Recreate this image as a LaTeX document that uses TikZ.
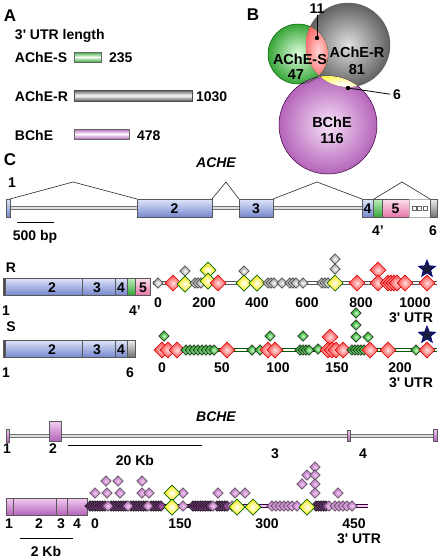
\documentclass[tikz,border=0pt]{standalone}
\usepackage{fontspec}
\setmainfont{Liberation Sans}
\usetikzlibrary{shapes.geometric}
\definecolor{bluT}{RGB}{224,230,250}
\definecolor{bluB}{RGB}{118,136,206}
\definecolor{pnkT}{RGB}{253,224,238}
\definecolor{pnkB}{RGB}{232,118,170}
\definecolor{grnT}{RGB}{190,240,190}
\definecolor{grnB}{RGB}{55,165,55}
\definecolor{gryT}{RGB}{238,238,238}
\definecolor{gryB}{RGB}{115,115,115}
\definecolor{purT}{RGB}{242,205,242}
\definecolor{purB}{RGB}{180,100,186}
\definecolor{purD}{RGB}{80,30,85}
\definecolor{navy}{RGB}{25,30,62}
\tikzset{
  lab/.style={font=\bfseries\fontsize{14}{16}\selectfont, anchor=base},
  big/.style={font=\bfseries\fontsize{17}{18}\selectfont, anchor=base},
  ebox/.style={draw=black!65, line width=0.6pt},
  blu/.style={ebox, top color=bluT, bottom color=bluB},
  grn/.style={ebox, top color=grnT, bottom color=grnB},
  pnk/.style={ebox, top color=pnkT, bottom color=pnkB},
  gry/.style={ebox, top color=gryT, bottom color=gryB},
  pur/.style={ebox, top color=purT, bottom color=purB},
  barG/.style={draw=black!60, line width=0.6pt, top color=grnB, bottom color=grnB, middle color=white},
  barK/.style={draw=black!70, line width=0.6pt, top color=black!65, bottom color=black!65, middle color=white},
  barP/.style={draw=black!60, line width=0.6pt, top color=purB, bottom color=purB, middle color=white},
  intron/.style={draw=black!55, double=black!12, double distance=1.6pt, line width=1pt},
  utrK/.style={draw=black!65, double=white, double distance=1.6pt, line width=1pt},
  utrG/.style={draw=green!35!black, double=white, double distance=1.6pt, line width=1pt},
  utrP/.style={draw=black!55!violet, double=purT, double distance=1.6pt, line width=1pt},
  dm/.style={diamond, inner sep=0pt, minimum size=#1, line width=0.5pt},
  gd/.style={dm=10.5pt, draw=black!75, inner color=white, outer color=black!45},
  yd/.style={dm=16pt, draw=green!40!black, line width=0.7pt, inner color=white, outer color=yellow!85!orange},
  rd/.style={dm=16pt, draw=red!85!black, inner color=red!12!white, outer color=red!75!white},
  sd/.style={dm=10.5pt, draw=black!85, inner color=green!20!white, outer color=green!55!black},
  pd/.style={dm=10.5pt, draw=black!70, inner color=purT, outer color=purB},
  pk/.style={dm=10.5pt, draw=black!90, inner color=purB, outer color=purD},
  starm/.style={star, star points=5, star point ratio=2.3, minimum size=18pt, inner sep=0pt, fill=navy, draw=blue!55!black, line width=0.7pt},
  ptr/.style={draw=black, line width=0.8pt},
  sbar/.style={draw=black, line width=1pt},
  caret/.style={draw=black!85, line width=0.6pt},
}
\begin{document}
\begin{tikzpicture}[x=1pt,y=-1pt,every node/.style={inner sep=0pt,outer sep=0pt}]
\useasboundingbox (0,0) rectangle (443,558);

% ---------------- Panel A
\node[big] (pA) at (10,21) {A};
\node[lab,anchor=base west] (utrlen) at (15,39) {3\textquotesingle{} UTR length};
\node[lab,anchor=base west] (aS) at (15,62) {AChE-S};
\draw[barG] (74,52) rectangle (101,62);
\node[lab,anchor=base west] (nS) at (109,62) {235};
\node[lab,anchor=base west] (aR) at (15,101) {AChE-R};
\draw[barK] (74,90) rectangle (192,101);
\node[lab,anchor=base west] (nR) at (196,101) {1030};
\node[lab,anchor=base west] (aB) at (15,140) {BChE};
\draw[barP] (74,129) rectangle (129,139);
\node[lab,anchor=base west] (nB) at (137,140) {478};

% ---------------- Panel B
\node[big] (pB) at (253,20) {B};
\coordinate (cK) at (348,45);
\coordinate (cG) at (298,54);
\coordinate (cP) at (328,125);
\shade[inner color=black!12, outer color=black!62] (cK) circle (42);
\shade[inner color=green!12, outer color=grnB] (cG) circle (30);
\shade[inner color=purT!60!white, outer color=purB] (cP) circle (49);
\draw[black!60, line width=0.5pt] (cK) circle (42);
\draw[green!35!black, line width=0.5pt] (cG) circle (30);
\draw[black!50!violet, line width=0.5pt] (cP) circle (49);
\begin{scope}
  \clip (cG) circle (30);
  \clip (cK) circle (42);
  \shade[inner color=red!15!white, outer color=red!80!white] (318,52) ellipse (20 and 42);
\end{scope}
\begin{scope}
  \clip (cK) circle (42);
  \clip (cP) circle (49);
  \shade[inner color=white, outer color=yellow!90!orange] (343,84) ellipse (42 and 14);
\end{scope}
\node[lab, font=\bfseries\fontsize{14.5}{16}\selectfont] (bS) at (300,64) {AChE-S};
\node[lab, font=\bfseries\fontsize{14.5}{16}\selectfont] (b47) at (296,79) {47};
\node[lab, font=\bfseries\fontsize{14.5}{16}\selectfont] (bR) at (357,57) {AChE-R};
\node[lab, font=\bfseries\fontsize{14.5}{16}\selectfont] (b81) at (357,74) {81};
\node[lab, font=\bfseries\fontsize{14.5}{16}\selectfont] (bB) at (332,127) {BChE};
\node[lab, font=\bfseries\fontsize{14.5}{16}\selectfont] (b116) at (332,143) {116};
\node[lab, outer sep=1.5pt] (n11) at (317,13) {11};
\coordinate (d11) at (317,38);
\draw[ptr] (n11.south) -- (d11);
\fill (d11) circle (2.2);
\node[lab, outer sep=3pt] (n6) at (397,99) {6};
\coordinate (d6) at (348,88);
\draw[ptr] (d6) -- (n6.west);
\fill (d6) circle (2.2);

% ---------------- Panel C : ACHE gene
\node[big] (pC) at (10,165) {C};
\node[lab, font=\bfseries\itshape\fontsize{14}{16}\selectfont] (ache) at (216,167) {ACHE};
\node[lab] (g1) at (12,187) {1};
\draw[intron] (7,208) -- (433,208);
\draw[blu] (6,199) rectangle (10,217);
\draw[blu] (137,199) rectangle (212,217);
\draw[blu] (239,199) rectangle (273,217);
\draw[blu] (362,199) rectangle (373,217);
\draw[grn] (373,199) rectangle (382,217);
\draw[pnk] (382,199) rectangle (409,217);
\draw[draw=black!30, fill=white, line width=0.5pt] (409,199) rectangle (430,217);
\foreach \x in {414,419.5,425} \draw[black!60, fill=white, line width=0.5pt] (\x-1.8,206.2) rectangle (\x+1.8,209.8);
\draw[gry] (430,199) rectangle (437,217);
\draw[caret] (10,199) -- (73,182) -- (137,199);
\draw[caret] (212,199) -- (226,182) -- (239,199);
\draw[caret] (273,199) -- (317,182) -- (362,199);
\draw[caret] (374,199) -- (402,182) -- (430,199);
\node[lab] (e2) at (174.5,213) {2};
\node[lab] (e3) at (256,213) {3};
\node[lab] (e4) at (367.5,213) {4};
\node[lab] (e5) at (395.5,213) {5};
\coordinate (sb1) at (17,222);
\coordinate (sb2) at (54,222);
\draw[sbar] (sb1) -- (sb2);
\node[lab] (bp) at (35,240) {500 bp};
\node[lab] (g4p) at (378,235) {4’};
\node[lab] (g6) at (433,235) {6};

% ---------------- R transcript
\node[lab] (tR) at (11,272) {R};
\draw[ebox, fill=black!70] (3,278) rectangle (5,295);
\draw[blu] (5,278) rectangle (82,295);
\draw[blu] (82,278) rectangle (115,295);
\draw[blu] (115,278) rectangle (127,295);
\draw[grn] (127,278) rectangle (135,295);
\draw[pnk] (135,278) rectangle (150,295);
\node[lab] (r2) at (52,292) {2};
\node[lab] (r3) at (97,292) {3};
\node[lab] (r4) at (121,292) {4};
\node[lab] (r5) at (143,292) {5};
\node[lab] (r1) at (6,315) {1};
\node[lab] (r4p) at (135,315) {4’};
\coordinate (rs) at (153,283);
\coordinate (re) at (437,283);
\draw[utrK] (rs) -- (re);
\foreach \x/\y/\s [count=\k] in {158/283/gd,173/283/rd,185/271/gd,185/284/yd,195/283/gd,198/283/gd,201/283/gd,
  208/270/yd,208/281/yd,218/283/rd,244/271/gd,244/283/yd,257/283/yd,268/283/gd,271/283/gd,274/283/gd,282/283/gd,
  290/283/gd,293/283/gd,296/283/gd,303/283/gd,322/283/gd,325/283/gd,328/283/gd,335/259/gd,335/269/gd,335/283/yd,
  357/283/rd,378/270/rd,378/283/rd,388/283/rd,391/283/rd,394/283/rd,397/283/rd,405/283/rd,427/283/rd}
  \node[\s] (rm\k) at (\x,\y) {};
\node[starm] (rstar) at (427,269) {};
\foreach \v/\x in {0/158,200/204,400/257,600/307,800/361,1000/415}
  \node[lab] (rx\v) at (\x,307) {\v};
\node[lab] (rutr) at (411,322) {3\textquotesingle{} UTR};

% ---------------- S transcript
\node[lab] (tS) at (11,331) {S};
\draw[ebox, fill=black!70] (3,340) rectangle (5,357);
\draw[blu] (5,340) rectangle (82,357);
\draw[blu] (82,340) rectangle (115,357);
\draw[blu] (115,340) rectangle (127,357);
\draw[gry] (127,340) rectangle (135,357);
\node[lab] (s2) at (52,354) {2};
\node[lab] (s3) at (97,354) {3};
\node[lab] (s4) at (121,354) {4};
\node[lab] (s1) at (6,377) {1};
\node[lab] (s6) at (130,377) {6};
\coordinate (ss) at (157,350);
\coordinate (se) at (437,350);
\draw[utrG] (ss) -- (se);
\foreach \x/\y/\s [count=\k] in {164/336/sd,162/350/rd,168/350/rd,177/350/rd,
  186/350/sd,190/350/sd,194/350/sd,198/350/sd,202/350/sd,206/350/sd,210/350/sd,214/350/sd,
  227/350/rd,252/350/sd,260/350/sd,270/336/sd,268/350/rd,275/350/rd,
  303/336/sd,300/350/sd,303/350/sd,306/350/sd,309/350/sd,318/349/sd,
  330/337/rd,328/350/rd,332/350/rd,336/350/rd,343/350/rd,
  356/313/sd,356/325/sd,356/337/sd,368/337/sd,
  352/350/sd,355/350/sd,358/350/sd,361/350/sd,364/350/sd,
  370/350/rd,388/350/rd,416/350/sd,427/350/rd}
  \node[\s] (sm\k) at (\x,\y) {};
\node[starm] (sstar) at (427,335) {};
\foreach \v/\x in {0/162,50/222,100/278,150/337,200/400}
  \node[lab] (sx\v) at (\x,372) {\v};
\node[lab] (sutr) at (411,387) {3\textquotesingle{} UTR};

% ---------------- BCHE gene
\node[lab, font=\bfseries\itshape\fontsize{14}{16}\selectfont] (bche) at (216,421) {BCHE};
\draw[intron] (7,436) -- (435,436);
\draw[pur] (6,429) rectangle (9,442);
\draw[pur] (49,421) rectangle (61,441);
\draw[pur] (347,430) rectangle (350,441);
\draw[pur] (433,429) rectangle (437,441);
\node[lab] (h1) at (7,453) {1};
\node[lab] (h2) at (53,453) {2};
\node[lab] (h3) at (275,458) {3};
\node[lab] (h4) at (363,458) {4};
\coordinate (kb1) at (68,445);
\coordinate (kb2) at (202,445);
\draw[sbar] (kb1) -- (kb2);
\node[lab] (kb) at (135,465) {20 Kb};

% ---------------- BCHE transcript
\draw[pur] (6,498) rectangle (87,515);
\draw[black!65, line width=0.6pt] (13,498) -- (13,515) (56,498) -- (56,515) (67,498) -- (67,515);
\foreach \n/\x in {1/9,2/39,3/61,4/77}
  \node[lab] (bt\n) at (\x,528) {\n};
\coordinate (tk1) at (20,538);
\coordinate (tk2) at (73,538);
\draw[sbar] (tk1) -- (tk2);
\node[lab] (tkb) at (46,556) {2 Kb};
\coordinate (bs) at (90,506);
\coordinate (be) at (368,506);
\draw[utrP] (bs) -- (be);
\foreach \x/\y [count=\k] in {106/481,118/481,142/481,95/493,107/493,120/493,142/493,149/493,183/493,218/493,235/493,245/493,
  315/467,307/475,315/475,302/484,315/484,315/493,338/493}
  \node[pd] (bu\k) at (\x,\y) {};
\foreach \x [count=\k] in {90,92.5,...,105.5,111,113.5,...,126,131,133.5,...,146,151,153.5,...,161,193,195.5,...,211,217,219.5,...,229,316,318.5,...,327}
  \node[pk] (bk\k) at (\x,506) {};
\foreach \x/\y/\s [count=\k] in {108/506/pd,128/506/pd,148/506/pd,172/493/yd,172/507/yd,183/506/pd,213/506/pd,232/506/pd,
  237/507/yd,253/507/yd,272/506/pd,276/506/pd,280/506/pd,284/506/pd,288/506/pd,292/506/pd,297/506/pd,307/507/yd,
  329/506/pd,335/506/pd,339/506/pd,343/506/pd,347/506/pd,352/506/pd}
  \node[\s] (bm\k) at (\x,\y) {};
\foreach \v/\x in {0/95,150/180,300/267,450/354}
  \node[lab] (bx\v) at (\x,528) {\v};
\node[lab] (butr) at (359,543) {3\textquotesingle{} UTR};
\end{tikzpicture}
\end{document}
